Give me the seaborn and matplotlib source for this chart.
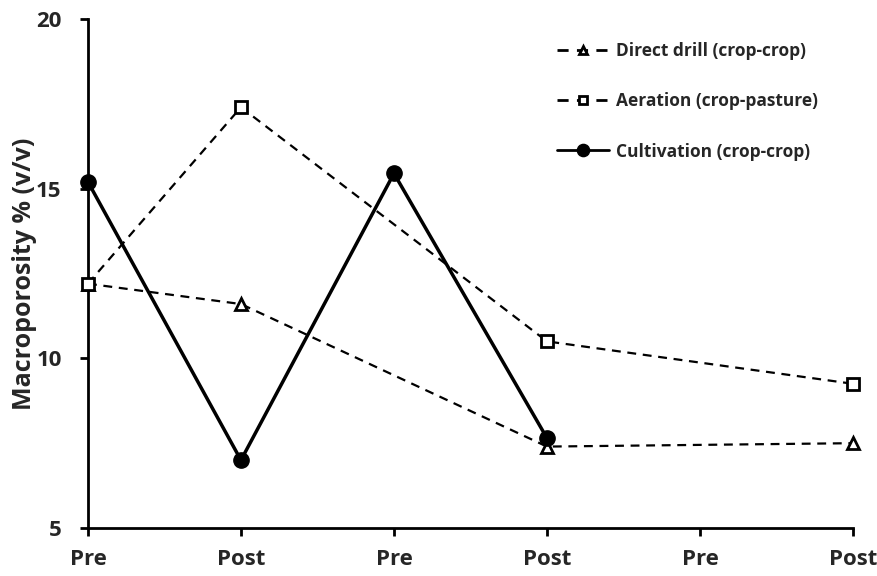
import matplotlib
matplotlib.use("Agg")
import matplotlib.pyplot as plt
import seaborn as sns
import pandas as pd
import numpy as np

# category labels along the x axis
tick_labels = ["Pre", "Post", "Pre", "Post", "Pre", "Post"]

# macroporosity % (v/v) per time point, NaN where not measured
direct_drill = [12.2, 11.6, np.nan, 7.4, np.nan, 7.5]
aeration = [12.2, 17.4, np.nan, 10.5, np.nan, 9.25]
cultivation = [15.2, 7.0, 15.45, 7.65, np.nan, np.nan]

series_names = ["Direct drill (crop-crop)", "Aeration (crop-pasture)", "Cultivation (crop-crop)"]

sns.set_style("ticks")
plt.rcParams["font.family"] = ["Open Sans", "DejaVu Sans"]
plt.rcParams["font.weight"] = "bold"

fig = plt.figure(figsize=(8.77, 5.76), dpi=100)
ax = fig.add_axes([0.1003, 0.0833, 0.8723, 0.8837])

pos = np.arange(len(tick_labels))
styles = [
    dict(marker="^", linestyle=(0, (4, 3)), lw=1.6, mfc="white", ms=8, mew=2),
    dict(marker="s", linestyle=(0, (4, 3)), lw=1.6, mfc="white", ms=8, mew=2),
    dict(marker="o", linestyle="-", lw=2.5, mfc="black", ms=11, mew=1),
]
for name, vals, st in zip(series_names, [direct_drill, aeration, cultivation], styles):
    df = pd.DataFrame({"x": pos, "y": vals}).dropna()
    sns.lineplot(data=df, x="x", y="y", ax=ax, color="black", label=name,
                 marker=st["marker"], linestyle=st["linestyle"], linewidth=st["lw"],
                 markerfacecolor=st["mfc"], markeredgecolor="black",
                 markersize=st["ms"], markeredgewidth=st["mew"], clip_on=False, zorder=3)

ax.set_xlim(0, 5)
ax.set_ylim(5, 20)
ax.set_xticks(pos)
ax.set_xticklabels(tick_labels)
ax.set_yticks([5, 10, 15, 20])
ax.tick_params(axis="both", labelsize=16, width=2, length=6, color="black", direction="out")
for t in ax.get_xticklabels() + ax.get_yticklabels():
    t.set_fontweight("bold")
ax.tick_params(axis="x", pad=9)
ax.tick_params(axis="y", pad=13)
ax.set_xlabel("")
ax.set_ylabel("Macroporosity % (v/v)", fontsize=18, fontweight="bold")
ax.yaxis.set_label_coords(-0.066, 0.5)

for side in ["top", "right"]:
    ax.spines[side].set_visible(False)
for side in ["left", "bottom"]:
    ax.spines[side].set_linewidth(2)
    ax.spines[side].set_color("black")

leg = ax.legend(loc="upper right", bbox_to_anchor=(0.975, 0.985), frameon=False,
                prop={"size": 12.5, "weight": "bold"}, labelspacing=1.85,
                handlelength=3.0, handletextpad=0.4, markerscale=0.8)
for line in leg.get_lines():
    line.set_linewidth(2)

fig.savefig("out.png", dpi=100)
